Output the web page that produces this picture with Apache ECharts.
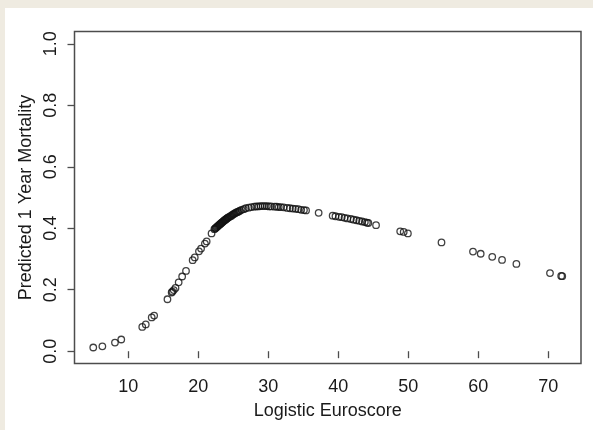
<!DOCTYPE html>
<html>
<head>
<meta charset="utf-8">
<script src="https://cdn.jsdelivr.net/npm/echarts@6/dist/echarts.min.js"></script>
<style>
html,body{margin:0;padding:0;background:#efebe1;}
#chart{width:593px;height:430px;}
</style>
</head>
<body>
<div id="chart"></div>
<script>
// Logistic Euroscore values (x)
const euroscore = [
  5.0, 6.3, 8.1, 9.0, 12.0, 12.5, 13.35, 13.7, 15.6, 16.2, 16.3, 16.5, 16.75, 17.2, 17.7, 18.25,
  19.2, 19.5, 20.1, 20.4, 20.95, 21.2, 21.9,
  22.3, 22.4, 22.5, 22.6, 22.7, 22.8, 22.9, 23.0, 23.1, 23.2, 23.3, 23.4, 23.5, 23.6, 23.7, 23.8, 23.9,
  24.0, 24.1, 24.2, 24.3, 24.45, 24.6, 24.75, 24.9, 25.05, 25.2, 25.35, 25.5, 25.65, 25.8, 25.95,
  26.2, 26.5, 26.8, 27.2, 27.6, 28.0, 28.3, 28.6, 28.9, 29.2, 29.5, 29.8,
  30.1, 30.4, 30.9, 31.2, 31.5, 31.8, 32.2, 32.7, 33.1, 33.5, 33.9, 34.3, 34.7, 35.1, 35.4,
  37.2, 39.2, 39.6, 40.1, 40.5, 40.9, 41.3, 41.8, 42.2, 42.6, 43.0, 43.4, 43.8, 44.1, 44.3,
  45.4, 48.85, 49.35, 49.95, 54.75, 59.25, 60.35, 62.0, 63.4, 65.45, 70.25, 71.85, 72.0
];
// Predicted 1 year mortality (y)
const mortality = [
  0.012, 0.016, 0.028, 0.038, 0.079, 0.087, 0.110, 0.116, 0.169, 0.191, 0.194, 0.199, 0.206, 0.224, 0.243, 0.261,
  0.296, 0.305, 0.325, 0.334, 0.350, 0.357, 0.383,
  0.397, 0.399, 0.401, 0.403, 0.405, 0.407, 0.409, 0.411, 0.413, 0.415, 0.417, 0.419, 0.421, 0.423, 0.425, 0.427, 0.428,
  0.430, 0.432, 0.434, 0.435, 0.437, 0.439, 0.441, 0.444, 0.446, 0.448, 0.450, 0.452, 0.453, 0.455, 0.457,
  0.460, 0.462, 0.465, 0.467, 0.469, 0.470, 0.471, 0.471, 0.472, 0.472, 0.472, 0.472,
  0.471, 0.471, 0.470, 0.470, 0.469, 0.469, 0.468, 0.466, 0.465, 0.464, 0.463, 0.462, 0.460, 0.459, 0.458,
  0.450, 0.441, 0.439, 0.437, 0.436, 0.434, 0.432, 0.430, 0.428, 0.426, 0.424, 0.422, 0.420, 0.418, 0.417,
  0.410, 0.390, 0.388, 0.383, 0.354, 0.324, 0.317, 0.307, 0.297, 0.284, 0.254, 0.245, 0.244
];
const xTicks = [10, 20, 30, 40, 50, 60, 70];
const yTicks = [0.0, 0.2, 0.4, 0.6, 0.8, 1.0];

const points = euroscore.map((x, i) => [x, mortality[i]]);
const font = '"Liberation Sans", Arial, Helvetica, sans-serif';
const ink = '#1a1a1a';
const frame = '#4d4d4d';

const chart = echarts.init(document.getElementById('chart'), null, {renderer: 'canvas'});
chart.setOption({
  animation: false,
  backgroundColor: 'transparent',
  graphic: [{
    type: 'rect', left: 5, top: 8, z: -10,
    shape: {width: 588, height: 422},
    style: {fill: '#ffffff'}
  }],
  grid: {
    left: 74.5, top: 31.5, right: 12, bottom: 66.5,
    show: true, borderColor: frame, borderWidth: 1.5, backgroundColor: 'transparent'
  },
  xAxis: {
    type: 'value', min: 2.32, max: 74.68,
    name: 'Logistic Euroscore', nameLocation: 'middle', nameGap: 39,
    nameTextStyle: {fontFamily: font, fontSize: 18, color: ink},
    axisLine: {show: false},
    splitLine: {show: false},
    axisTick: {show: true, inside: false, length: 7, customValues: xTicks,
      lineStyle: {color: frame, width: 1.3}},
    axisLabel: {customValues: xTicks, margin: 15, fontFamily: font, fontSize: 18, color: ink,
      formatter: v => String(v)}
  },
  yAxis: {
    type: 'value', min: -0.04, max: 1.04,
    name: 'Predicted 1 Year Mortality', nameLocation: 'middle', nameGap: 34,
    nameTextStyle: {fontFamily: font, fontSize: 18, color: ink},
    axisLine: {show: false},
    splitLine: {show: false},
    axisTick: {show: true, inside: false, length: 7, customValues: yTicks,
      lineStyle: {color: frame, width: 1.3}},
    axisLabel: {customValues: yTicks, rotate: 90, margin: 14, fontFamily: font, fontSize: 18, color: ink,
      formatter: v => v.toFixed(1)}
  },
  series: [{
    type: 'scatter',
    data: points,
    symbol: 'circle',
    symbolSize: 6.5,
    itemStyle: {color: 'rgba(0,0,0,0)', borderColor: '#111', borderWidth: 1.3}
  }]
});
</script>
</body>
</html>
